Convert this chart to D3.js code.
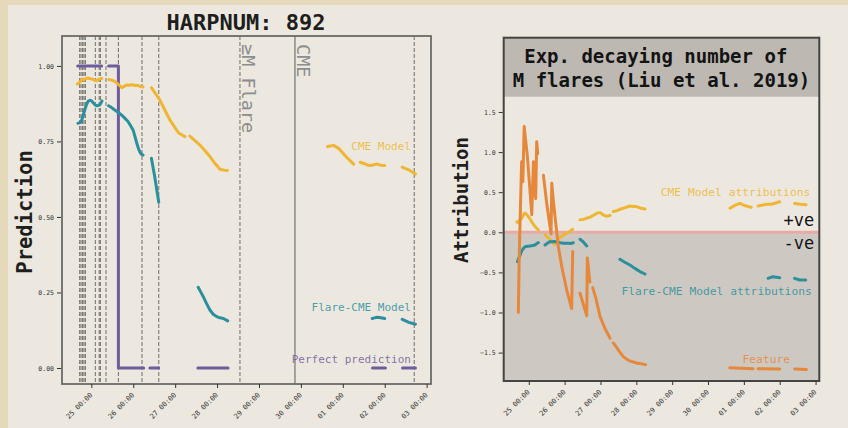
<!DOCTYPE html>
<html>
<head>
<meta charset="utf-8">
<script src="https://cdn.jsdelivr.net/npm/d3@7/dist/d3.min.js"></script>
<style>
	body { margin: 0; background: #e6d9bb; }
	svg text { font-family: "DejaVu Sans Mono", monospace; }
</style>
</head>
<body>
<div id="chart"></div>
<script>

// ---- data (hours after 25 Sep 2011 00:00 UT, value) ----
const START = Date.UTC(2011, 8, 25);
const hour = h => new Date(START + h * 36e5);

const dayTicks = ["2011-09-25", "2011-09-26", "2011-09-27", "2011-09-28", "2011-09-29",
	"2011-09-30", "2011-10-01", "2011-10-02", "2011-10-03"];
const predTicks = [0, 0.25, 0.5, 0.75, 1.0];
const attrTicks = [-1.5, -1.0, -0.5, 0, 0.5, 1.0, 1.5];

// flare times (dashed), the >=M flare and the CME
const flareHours = [-6.7, -5.9, -5.0, -4.2, -3.4, 2.3, 4.5, 5.2, 8.4, 15.5, 29.0, 38.6, 184.9];
const mFlareHour = 85.1;
const cmeHour = 116.6;

const cmePred = [
	[[-8, 0.94], [-7, 0.944], [-6, 0.95], [-5, 0.957], [-4, 0.955], [-3, 0.958], [-2, 0.96], [-1, 0.958], [0, 0.957], [1, 0.955], [2, 0.953], [3, 0.951], [4, 0.955], [5, 0.957], [6, 0.958]],
	[[10, 0.955], [11.5, 0.953], [13, 0.95], [14.5, 0.944], [16, 0.936], [17.5, 0.928], [19, 0.933], [20.5, 0.937], [22, 0.936], [23.5, 0.938], [25, 0.935], [26.5, 0.936], [28, 0.932], [29.6, 0.93]],
	[[34.4, 0.928], [36, 0.915], [37.5, 0.902], [39.2, 0.887], [42, 0.855], [45, 0.821], [48, 0.795], [50, 0.778], [51.7, 0.772], [53.6, 0.766]],
	[[56.4, 0.768], [59, 0.754], [62.2, 0.738], [65, 0.72], [67.9, 0.70], [71, 0.676], [73.7, 0.658], [76, 0.655], [77.9, 0.654]],
	[[135.3, 0.733], [137, 0.735], [138.7, 0.737], [141.6, 0.727], [144, 0.712], [147, 0.693], [150.2, 0.675]],
	[[154, 0.681], [156, 0.677], [158, 0.672], [159.8, 0.67], [161.7, 0.673], [163.6, 0.675], [166, 0.671], [168, 0.67]],
	[[178, 0.665], [180, 0.66], [181.8, 0.656], [183.7, 0.649], [185.6, 0.642]]
];

const flareCmePred = [
	[[-7.7, 0.81], [-6.7, 0.812], [-5.7, 0.816], [-4.8, 0.835], [-3.8, 0.854], [-2.9, 0.87], [-1.95, 0.882], [-1, 0.886], [0, 0.885], [1, 0.878], [2, 0.872], [2.9, 0.868], [3.8, 0.869], [4.8, 0.871], [6.1, 0.884]],
	[[9.9, 0.868], [11.6, 0.862], [13.4, 0.854], [15.3, 0.847], [17.2, 0.838], [19, 0.828], [21, 0.816], [22.5, 0.802], [23.9, 0.788], [24.8, 0.77], [25.8, 0.749], [26.8, 0.73], [27.7, 0.716], [28.6, 0.708], [29.6, 0.705]],
	[[34.4, 0.694], [36.3, 0.633], [38.6, 0.549]],
	[[61.2, 0.267], [62.6, 0.252], [64.1, 0.236], [66, 0.213], [67.9, 0.192], [69.8, 0.178], [71.8, 0.17], [73.7, 0.166], [75.6, 0.164], [78.1, 0.156]],
	[[160.8, 0.164], [162.2, 0.166], [163.6, 0.168], [165.8, 0.166], [168, 0.164]],
	[[178, 0.161], [180, 0.156], [181.8, 0.151], [183.7, 0.148], [185.6, 0.145]]
];

const perfectPred = [
	[[-7.8, 1], [5.9, 1]],
	[[9.9, 1], [15.5, 1], [15.5, 0], [30, 0]],
	[[33.5, 0], [38.6, 0]],
	[[61, 0], [78.3, 0]],
	[[161, 0], [168.4, 0]],
	[[178.2, 0], [185.6, 0]]
];

const cmeAttr = [
	[[-8, 0.13], [-7, 0.12], [-5.8, 0.16], [-4.7, 0.175], [-3.5, 0.22], [-2.5, 0.24], [-1.4, 0.22], [-0.3, 0.195], [1, 0.16], [2, 0.13], [3.1, 0.1], [4.2, 0.07], [5.3, 0.05], [6.4, 0.03]],
	[[10.9, -0.03], [12.5, -0.06], [14.2, -0.09], [15.9, -0.13], [17.6, -0.15], [19, -0.1], [20.5, -0.07], [22, -0.05], [23.7, -0.03], [25.4, -0.01], [27.4, 0.01], [29.4, 0.037]],
	[[34.3, 0.155], [36.5, 0.16], [38.8, 0.175], [41, 0.19], [43.2, 0.21], [45.5, 0.237], [47.7, 0.245], [50, 0.215], [52.1, 0.2], [54.4, 0.21]],
	[[56.6, 0.26], [59, 0.27], [61, 0.287], [64, 0.305], [67.7, 0.328], [70, 0.322], [72.2, 0.32], [75, 0.30], [77.8, 0.29]],
	[[134.7, 0.3], [138, 0.335], [141.3, 0.36], [145, 0.33], [149, 0.31]],
	[[153.5, 0.328], [158, 0.345], [163, 0.353], [168, 0.38]],
	[[178, 0.36], [182, 0.35], [185.6, 0.344]]
];

const flareCmeAttr = [
	[[-7.6, -0.366], [-6.7, -0.32], [-5.8, -0.283], [-4.7, -0.23], [-3.6, -0.2], [-2.5, -0.18], [-0.8, -0.175], [0.9, -0.17], [2.5, -0.165], [4.2, -0.158], [5.3, -0.14], [6.4, -0.13]],
	[[10.9, -0.158], [12.5, -0.135], [14.2, -0.117], [16.5, -0.115], [18.7, -0.117], [21, -0.13], [23.1, -0.137], [26.5, -0.137], [28, -0.14], [29.8, -0.13]],
	[[34.3, -0.087], [36.5, -0.12], [38.8, -0.17]],
	[[61, -0.337], [64, -0.37], [67.7, -0.408], [71, -0.45], [74.4, -0.49], [77.8, -0.52]],
	[[160.2, -0.574], [163.5, -0.553], [168, -0.566]],
	[[178, -0.574], [181.4, -0.595], [185.4, -0.595]]
];

const featureAttr = [
	[[-7.0, -1.0], [-6.4, -0.3], [-5.6, 0.3], [-4.8, 0.88], [-4.0, 0.63], [-3.1, 1.32], [-0.9, 0.94], [2.0, 0.22], [3.1, 0.88], [4.6, 0.42], [5.3, 1.13], [6.0, 0.98]],
	[[9.8, 0.71], [12.2, 0.33], [14.9, -0.02], [15.4, 0.61], [16.4, 0.4], [17.6, 0.19], [19.8, -0.18], [22.1, -0.43], [25.4, -0.72], [28.7, -0.95], [29.4, -0.24]],
	[[34.3, -0.76], [38.8, -1.04], [39.2, -0.32], [40.9, -0.62]],
	[[42.8, -0.69], [45, -0.83], [47.7, -1.05], [51, -1.2], [54.4, -1.32]],
	[[56.6, -1.38], [60, -1.47], [63.2, -1.55], [67, -1.6], [72.2, -1.63], [78.2, -1.65]],
	[[134.6, -1.69], [150.2, -1.70]],
	[[153.5, -1.70], [168, -1.705]],
	[[178, -1.705], [185.9, -1.71]]
];

const colors = {cme: "#efb633", flare: "#2b8f9e", perfect: "#6f5c9c", feature: "#e5883c"};

// segments -> one array with null gaps, so d3.line().defined() breaks the path
function withGaps(segs) {
	let out = [];
	segs.forEach(function(s, i) {
		if (i > 0) out.push(null);
		s.forEach(p => out.push(p));
	});
	return out;
}

const svg = d3.select("#chart").append("svg")
	.attr("width", 848)
	.attr("height", 428);

svg.append("rect").attr("x", 8).attr("y", 5).attr("width", 840).attr("height", 423).attr("fill", "#ece8df");

const xDomain = [hour(-16.8), hour(194.5)];
const tickDates = dayTicks.map(d => new Date(d + "T00:00:00Z"));
const tickFmt = d3.utcFormat("%d %H:%M");

function drawXAxis(g, x, y0) {
	let ax = g.append("g")
		.attr("transform", "translate(0," + y0 + ")")
		.call(d3.axisBottom(x).tickValues(tickDates).tickFormat(tickFmt).tickSize(4));
	ax.select(".domain").remove();
	ax.selectAll("line").attr("stroke", "#333").attr("stroke-width", 1);
	ax.selectAll("text")
		.attr("x", -1).attr("y", 0).attr("dy", "0.35em")
		.attr("transform", "translate(0,9) rotate(-45)")
		.style("text-anchor", "end")
		.style("font-size", "7px")
		.attr("fill", "#333");
}

function drawYAxis(g, y, x0, ticks, fmt) {
	let ax = g.append("g")
		.attr("transform", "translate(" + x0 + ",0)")
		.call(d3.axisLeft(y).tickValues(ticks).tickFormat(fmt).tickSize(4));
	ax.select(".domain").remove();
	ax.selectAll("line").attr("stroke", "#333").attr("stroke-width", 1);
	ax.selectAll("text").style("font-size", "6.5px").attr("fill", "#333");
}

function drawSeries(g, x, y, segs, color, width) {
	let line = d3.line()
		.defined(d => d !== null)
		.x(d => x(hour(d[0])))
		.y(d => y(d[1]));
	g.append("path")
		.datum(withGaps(segs))
		.attr("d", line)
		.attr("fill", "none")
		.attr("stroke", color)
		.attr("stroke-width", width)
		.attr("stroke-linejoin", "round")
		.attr("stroke-linecap", "round");
}

/*
 * PredictionChart - left panel, model outputs with flare / CME markers
 */
class PredictionChart {

	constructor(svg, box) {
		this.svg = svg;
		this.box = box;
		this.initVis();
	}

	initVis() {
		let vis = this;
		let b = vis.box;

		vis.x = d3.scaleUtc().domain(xDomain).range([b.left, b.right]);
		vis.y = d3.scaleLinear().domain([-0.053, 1.099]).range([b.bottom, b.top]);

		vis.g = vis.svg.append("g");

		// flare lines
		vis.g.selectAll(".flare")
			.data(flareHours.concat([mFlareHour]))
			.enter().append("line")
			.attr("class", "flare")
			.attr("x1", d => vis.x(hour(d))).attr("x2", d => vis.x(hour(d)))
			.attr("y1", b.top).attr("y2", b.bottom)
			.attr("stroke", "#4a4a4a")
			.attr("stroke-opacity", 0.7)
			.attr("stroke-width", 1.1)
			.attr("stroke-dasharray", "4,2");

		vis.g.append("line")
			.attr("x1", vis.x(hour(cmeHour))).attr("x2", vis.x(hour(cmeHour)))
			.attr("y1", b.top).attr("y2", b.bottom)
			.attr("stroke", "#8f8f8f").attr("stroke-width", 1.6);

		vis.g.append("text")
			.attr("transform", "translate(" + (vis.x(hour(mFlareHour)) + 2) + "," + (b.top + 8) + ") rotate(90)")
			.style("font-size", "18.5px")
			.attr("fill", "#8d8d8d")
			.text("≥M Flare");

		vis.g.append("text")
			.attr("transform", "translate(" + (vis.x(hour(cmeHour)) + 2) + "," + (b.top + 8) + ") rotate(90)")
			.style("font-size", "18.5px")
			.attr("fill", "#8d8d8d")
			.text("CME");

		drawSeries(vis.g, vis.x, vis.y, perfectPred, colors.perfect, 3);
		drawSeries(vis.g, vis.x, vis.y, cmePred, colors.cme, 3);
		drawSeries(vis.g, vis.x, vis.y, flareCmePred, colors.flare, 3);

		// frame
		vis.g.append("rect")
			.attr("x", b.left).attr("y", b.top)
			.attr("width", b.right - b.left).attr("height", b.bottom - b.top)
			.attr("fill", "none").attr("stroke", "#6a6a6a").attr("stroke-width", 1.8);

		drawXAxis(vis.g, vis.x, b.bottom);
		drawYAxis(vis.g, vis.y, b.left - 1, predTicks, d3.format(".2f"));

		// labels
		let labelX = vis.x(hour(183));
		[["CME Model", 0.722, colors.cme], ["Flare-CME Model", 0.19, colors.flare], ["Perfect prediction", 0.018, colors.perfect]]
			.forEach(function(l) {
				vis.g.append("text")
					.attr("x", labelX).attr("y", vis.y(l[1]))
					.attr("text-anchor", "end")
					.style("font-size", "11px")
					.attr("fill", l[2]).attr("fill-opacity", 0.85)
					.text(l[0]);
			});

		vis.g.append("text")
			.attr("x", 246).attr("y", 30)
			.attr("text-anchor", "middle")
			.style("font-size", "22px").style("font-weight", "bold")
			.attr("fill", "#1e1e1e")
			.text("HARPNUM: 892");

		vis.g.append("text")
			.attr("transform", "translate(32," + ((b.top + b.bottom) / 2 + 2) + ") rotate(-90)")
			.attr("text-anchor", "middle")
			.style("font-size", "20.5px").style("font-weight", "bold")
			.attr("fill", "#1e1e1e")
			.text("Prediction");
	}
}

/*
 * AttributionChart - right panel, feature value and model attributions
 */
class AttributionChart {

	constructor(svg, box) {
		this.svg = svg;
		this.box = box;
		this.initVis();
	}

	initVis() {
		let vis = this;
		let b = vis.box;

		vis.x = d3.scaleUtc().domain(xDomain).range([b.left, b.right]);
		vis.y = d3.scaleLinear().domain([-1.854, 2.426]).range([b.bottom, b.top]);

		vis.g = vis.svg.append("g");

		// negative region
		vis.g.append("rect")
			.attr("x", b.left).attr("y", vis.y(0))
			.attr("width", b.right - b.left).attr("height", b.bottom - vis.y(0))
			.attr("fill", "#cdc9c2");

		vis.g.append("line")
			.attr("x1", b.left).attr("x2", b.right)
			.attr("y1", vis.y(0)).attr("y2", vis.y(0))
			.attr("stroke", "#e8aaa4").attr("stroke-width", 3);

		drawSeries(vis.g, vis.x, vis.y, cmeAttr, colors.cme, 3);
		drawSeries(vis.g, vis.x, vis.y, flareCmeAttr, colors.flare, 3);
		drawSeries(vis.g, vis.x, vis.y, featureAttr, colors.feature, 3);

		// title box
		vis.g.append("rect")
			.attr("x", b.left).attr("y", b.top)
			.attr("width", b.right - b.left).attr("height", b.titleBottom - b.top)
			.attr("fill", "#bdb9b2");

		let cx = (b.left + b.right) / 2;
		[["Exp. decaying number of ", 63], ["M flares (Liu et al. 2019)", 87]].forEach(function(t) {
			vis.g.append("text")
				.attr("x", cx).attr("y", t[1])
				.attr("text-anchor", "middle")
				.style("font-size", "19px").style("font-weight", "bold")
				.style("white-space", "pre")
				.attr("fill", "#141414")
				.text(t[0]);
		});

		vis.g.append("rect")
			.attr("x", b.left).attr("y", b.top)
			.attr("width", b.right - b.left).attr("height", b.bottom - b.top)
			.attr("fill", "none").attr("stroke", "#444").attr("stroke-width", 2);

		drawXAxis(vis.g, vis.x, b.bottom);
		drawYAxis(vis.g, vis.y, b.left - 1, attrTicks, d3.format(".1f"));

		let labelX = vis.x(hour(188.5));
		vis.g.append("text")
			.attr("x", labelX).attr("y", vis.y(0.45))
			.attr("text-anchor", "end").style("font-size", "11.3px")
			.attr("fill", colors.cme).attr("fill-opacity", 0.85)
			.text("CME Model attributions");
		vis.g.append("text")
			.attr("x", labelX + 1.5).attr("y", vis.y(-0.78))
			.attr("text-anchor", "end").style("font-size", "11.3px")
			.attr("fill", colors.flare).attr("fill-opacity", 0.85)
			.text("Flare-CME Model attributions");
		vis.g.append("text")
			.attr("x", vis.x(hour(159))).attr("y", vis.y(-1.63))
			.attr("text-anchor", "middle").style("font-size", "11.3px")
			.attr("fill", colors.feature).attr("fill-opacity", 0.85)
			.text("Feature");

		vis.g.append("text")
			.attr("x", b.right - 5).attr("y", vis.y(0.08))
			.attr("text-anchor", "end").style("font-size", "17px")
			.attr("fill", "#141414")
			.text("+ve");
		vis.g.append("text")
			.attr("x", b.right - 5).attr("y", vis.y(-0.21))
			.attr("text-anchor", "end").style("font-size", "17px")
			.attr("fill", "#141414")
			.text("-ve");

		vis.g.append("text")
			.attr("transform", "translate(468," + 200 + ") rotate(-90)")
			.attr("text-anchor", "middle")
			.style("font-size", "19px").style("font-weight", "bold")
			.attr("fill", "#1e1e1e")
			.text("Attribution");
	}
}

new PredictionChart(svg, {left: 62, right: 431, top: 36, bottom: 384});
new AttributionChart(svg, {left: 503.7, right: 819.3, top: 37.7, titleBottom: 96.7, bottom: 381});

</script>
</body>
</html>
